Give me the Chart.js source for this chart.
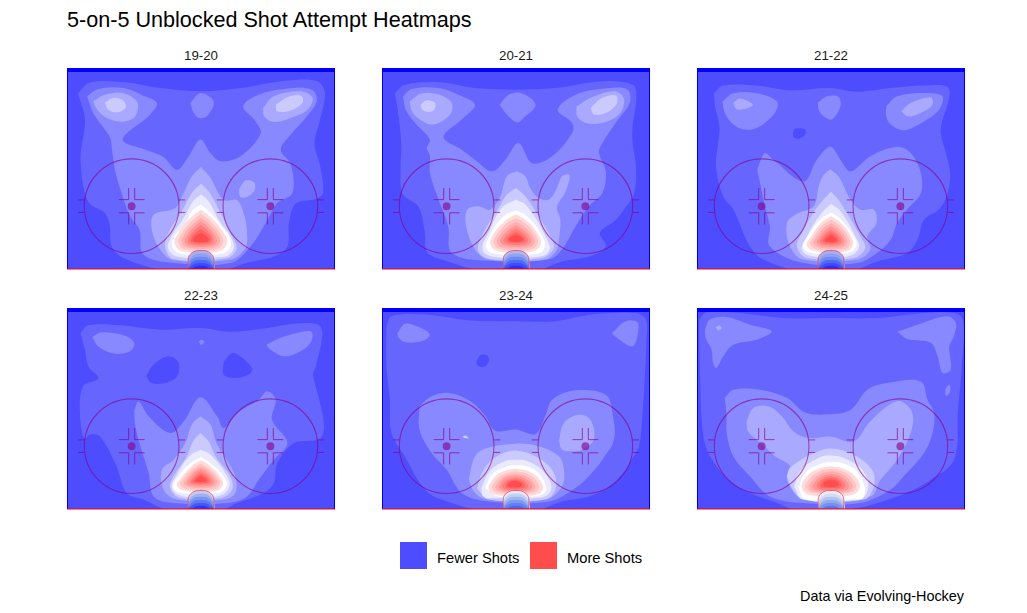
<!DOCTYPE html>
<html>
<head>
<meta charset="utf-8">
<title>5-on-5 Unblocked Shot Attempt Heatmaps</title>
<script src="https://cdn.jsdelivr.net/npm/chart.js@4/dist/chart.umd.min.js"></script>
<style>
  body { margin: 0; background: #fff; font-family: "Liberation Sans", Arial, sans-serif; color: #1a1a1a; }
  #page { position: relative; width: 1027px; height: 613px; overflow: hidden; }
  #page > div, #page > canvas { position: absolute; }
  .facet { width: 268px; text-align: center; font-size: 13.3px; line-height: 14px; }
  #title { left: 67px; top: 8px; font-size: 21.6px; line-height: 24px; color: #000; white-space: nowrap; }
  #caption { right: 63px; top: 588px; font-size: 14.4px; line-height: 16px; color: #000; white-space: nowrap; }
  .key { width: 27px; height: 27px; top: 542px; }
  .keyLabel { top: 550px; font-size: 14.7px; line-height: 16px; white-space: nowrap; color: #000; }
</style>
</head>
<body>
<div id="page">
  <div id="title">5-on-5 Unblocked Shot Attempt Heatmaps</div>
  <div id="caption">Data via Evolving-Hockey</div>
</div>
<script>
const seasons = ["19-20", "20-21", "21-22", "22-23", "23-24", "24-25"];
const legendLabels = ["Fewer Shots", "More Shots"];

// contour fill per level, low to high
const levelColors = ["#4d4dff", "#6666ff", "#8888ff", "#a9a9ff", "#cacaff", "#eaeaff", "#ffffff",
  "#ffdcdc", "#ffc5c5", "#ffadad", "#ff9595", "#ff7d7d", "#ff6565", "#ff4d4d"];

// each entry: [level, ring of [feet across, feet from goal line]]
const contours1920 = [
  [1, [[-39,56],[-35.2,59.4],[-23.6,59.4],[-13,57.6],[0,56.6],[12.5,57.6],[27.4,60],[36.9,59.8],[39.3,56],[37.5,46.5],[36,40],[37.8,32.7],[38.7,24.2],[36.4,22.3],[30,20.8],[27.9,14.6],[27.4,7.2],[23.1,4],[14.6,2],[5,-1],[-8.7,-1],[-23.6,3],[-28.3,7.2],[-28.9,13.6],[-30.5,17.8],[-35.8,21.5],[-38.2,34.8],[-36.8,47.6]]],
  [2, [[-36.1,55],[-32.5,57.3],[-24.6,57.6],[-18.3,55.2],[-14,52.9],[-16.1,49.2],[-24.8,41.2],[-17.2,37.8],[-11.9,35.7],[-7.6,31.6],[-3.9,35.9],[-0.2,41.2],[3,36.9],[6.2,34.3],[12.5,35.9],[18.9,43.1],[17.3,47],[13.4,51.8],[18.9,55.7],[29.5,57.6],[35.4,56.9],[36.7,53.4],[33.2,48.1],[28.5,42.8],[25.3,38],[28.5,33.2],[29,24.2],[24.2,21],[20.5,14.6],[15.7,7.2],[9.3,1.9],[-8.7,1.9],[-18.3,4.6],[-19.5,12.5],[-22.5,16.8],[-25.7,25.8],[-27.3,31.6],[-28.3,38.5],[-28.9,42],[-34.2,49.7]]],
  [2, [[-3.4,52.9],[-0.2,56],[4,53.4],[2.4,49.2],[-0.2,48],[-2.3,49.7]]],
  [3, [[-34.2,53.4],[-30.5,55.5],[-24.6,56],[-20.2,53.1],[-20.9,48.6],[-24.6,46.9],[-29.9,48.1],[-32.9,50.7]]],
  [3, [[19.7,51.3],[23.1,55],[31.6,56.6],[35.4,54.5],[33.8,50.7],[28.5,48.1],[23.1,46.8],[20,48.6]]],
  [3, [[12,25.3],[14.1,28.2],[16.8,27.6],[17,25.1],[14.6,22.9],[12.5,22.9]]],
  [3, [[0,32.5],[3,29],[7.2,22],[11.5,21.9],[13.8,16.8],[14.6,11.5],[14.1,6.7],[9.3,3],[-8.7,2.8],[-13,6.2],[-15.6,12.5],[-15,17.3],[-8.2,19.4],[-5.5,24.2],[-2.9,29.5]]],
  [4, [[-30.5,52.9],[-27.8,54.5],[-24.6,53.6],[-23.9,51.3],[-26.8,49.9],[-29.4,50.7]]],
  [4, [[23.7,52.3],[27.4,54.7],[31.8,55.2],[32.2,52.9],[28.5,50.5],[24.2,50.2]]],
  [4, [[0,27.2],[2.8,24.2],[6.2,17.8],[9.3,11.5],[11.3,6.7],[8.3,3.5],[-8.7,3.2],[-11.4,7.2],[-9.8,12.5],[-6.1,18.4],[-2.9,24.2]]],
  [5, [[0,23.7],[2.4,21.6],[5.6,15.7],[9.9,9.3],[9.9,5.6],[6.2,3.8],[-6.6,3.8],[-10.3,6.2],[-9.6,9.9],[-5.5,16.2],[-2.5,21.6]]],
  [6, [[0,20.5],[3,17.8],[6.2,14.1],[9.3,9.3],[8.8,6.2],[5.1,4.6],[-5,4.6],[-8.7,6.4],[-8.7,9.9],[-4.8,14.6],[-2.9,18.4]]],
  [7, [[0,18.9],[3,16.6],[7.2,11.5],[8.3,8.3],[5.5,5.6],[-5.5,5.6],[-8.3,8],[-7.2,11.5],[-3,16.6]]],
  [8, [[0,17.6],[2.8,15.4],[6.2,11.2],[7,8.4],[4.8,6.2],[-4.8,6.2],[-7.1,8.2],[-6.2,11.2],[-2.8,15.4]]],
  [9, [[0,16.3],[2.5,14.3],[5.3,11],[6,8.5],[4,6.8],[-4,6.8],[-6.1,8.4],[-5.3,11],[-2.5,14.3]]],
  [10, [[0,15.1],[2.2,13.4],[4.4,10.7],[5,8.6],[3.3,7.3],[-3.3,7.3],[-5.1,8.6],[-4.4,10.7],[-2.2,13.4]]],
  [11, [[0,13.9],[1.9,12.5],[3.6,10.4],[4,8.8],[2.7,7.8],[-2.7,7.8],[-4.1,8.8],[-3.6,10.4],[-1.9,12.5]]],
  [12, [[0,12.7],[1.6,11.6],[2.9,10.2],[3.2,9],[2.1,8.3],[-2.1,8.3],[-3.3,9],[-2.9,10.2],[-1.6,11.6]]],
  [13, [[0,11.6],[1.3,10.8],[2.3,9.8],[2.4,9.1],[1.4,8.6],[-1.4,8.6],[-2.5,9.1],[-2.3,9.8],[-1.3,10.8]]]
];

const contours2021 = [
  [1, [[-38.4,56],[-35.2,58.7],[-23.6,59.4],[-13,57.6],[0,57.1],[12.5,57.6],[27.4,59.8],[37,58.7],[38.2,55],[37,45.5],[37,40],[38,33],[37.5,24.2],[34.3,19],[31.7,15.7],[26.6,11.5],[28.5,7.2],[23.1,4],[14.6,2.4],[5,-1],[-8.7,-1],[-23.6,3],[-28.3,5.6],[-28.9,11.5],[-30.9,19.8],[-36,24],[-36.6,31.6],[-36.4,40],[-37.5,50.7]]],
  [2, [[-35.8,55],[-33.1,57.3],[-24.6,57.6],[-18.3,55.5],[-13,52.3],[-17.2,47.6],[-23,42],[-17.2,38],[-13,34.8],[-7.6,31.1],[-3.4,34.8],[0.8,40.1],[5.1,33.7],[11.5,35.9],[17.8,43.3],[17.8,46.5],[13.2,50.7],[18.9,55.5],[29.5,57.6],[35.4,57.1],[36.1,53],[31.6,46.5],[27.4,40.1],[26.3,37.2],[28.5,30.9],[27.4,24.2],[23.1,20],[18.9,13.6],[14.6,6.2],[10.4,3],[-8.7,2.6],[-20.4,5.1],[-21.5,13.6],[-24.6,22.1],[-27.3,30.6],[-27.3,35.9],[-28.3,38.5],[-27.3,41.2],[-32,46.5],[-35,50.7]]],
  [2, [[-5.2,52.3],[-2.3,55.5],[1.9,56],[6.2,52.3],[2.4,48.1],[0.3,46.7],[-2.9,49.2]]],
  [3, [[-33.7,53.4],[-30,55.9],[-24.6,55.6],[-20.4,53],[-20.9,49.2],[-26.2,46],[-30.5,47.6],[-33.1,50.3]]],
  [3, [[19.2,51.8],[24.2,54.8],[31.6,56.6],[34.3,53.9],[32.7,49.2],[27.4,46.5],[22.1,46.5],[19.4,48.6]]],
  [3, [[0.3,31.1],[3,29.5],[4.5,25.8],[7.2,22.6],[10.4,22.1],[13,25.8],[14.6,29.5],[17,29.9],[15.7,24.6],[13,19.8],[14.1,15.6],[13.6,9.3],[13,6.2],[9.3,3],[-8.7,3],[-13,6.2],[-15.8,13.6],[-15.5,18.9],[-11.9,20],[-8.2,18.9],[-5,23.1],[-2.9,29.5]]],
  [4, [[-30.3,52.3],[-28.3,53.7],[-25.7,52.9],[-25.9,50.7],[-27.8,50],[-29.7,50.7]]],
  [4, [[23.7,51.3],[27.4,54.5],[31.8,55.2],[31.8,52.3],[28.5,49.7],[24.7,49.2]]],
  [4, [[0,25.8],[3,23.1],[6.2,18.4],[10.9,10.4],[12,6.7],[8.3,3.5],[-8.7,3.2],[-12.1,6.2],[-9.8,12.5],[-5.5,19.4],[-2.9,23.7]]],
  [5, [[0,22.1],[3.5,20],[9.9,9.3],[10.4,5.6],[6.2,3.8],[-6.6,3.8],[-10.6,6.2],[-8.2,12.5],[-4.5,19.4]]],
  [6, [[0,18.7],[3.5,16.8],[8.3,10.4],[8.8,6.2],[5.1,4.6],[-5,4.6],[-9.2,6.2],[-8.2,10.9],[-3.9,16.8]]],
  [7, [[0,17.4],[3.2,15.5],[7,11],[7.8,7.8],[5,5.5],[-5,5.5],[-8,7.5],[-7.2,11],[-3.2,15.5]]],
  [8, [[0,16.2],[3,14.5],[6.2,10.8],[6.8,8],[4.5,6.2],[-4.5,6.2],[-7,8],[-6.2,10.8],[-3,14.5]]],
  [9, [[0,15],[2.7,13.4],[5.3,10.5],[5.8,8.3],[4,6.8],[-4,6.8],[-6,8.3],[-5.3,10.5],[-2.7,13.4]]],
  [10, [[0,13.9],[2.3,12.5],[4.4,10.3],[4.8,8.6],[3.2,7.4],[-3.2,7.4],[-5,8.6],[-4.4,10.3],[-2.3,12.5]]],
  [11, [[0,12.8],[1.9,11.7],[3.6,10],[3.8,8.8],[2.5,7.9],[-2.5,7.9],[-3.9,8.8],[-3.6,10],[-1.9,11.7]]],
  [12, [[0,11.8],[1.5,11],[2.8,9.8],[2.8,9],[1.8,8.4],[-1.8,8.4],[-2.9,9],[-2.8,9.8],[-1.5,11]]],
  [13, [[0,11],[1.2,10.4],[2.2,9.6],[1.9,9],[1,8.7],[-1,8.7],[-2,9],[-2.2,9.6],[-1.2,10.4]]]
];

const contours2122 = [
  [1, [[-37.1,56],[-34.2,58.4],[-23.6,58.4],[-13,56.9],[-0.2,57.6],[8.3,56.4],[18.9,57.6],[29.5,58.4],[36.9,58],[37.5,54.5],[34.8,44.4],[36.4,37],[37.8,30.6],[37,24.2],[34.3,19],[29.5,15.7],[27.4,9.3],[24.2,5.1],[14.6,2.4],[5,-1],[-8.7,-1],[-21.5,3],[-25.7,7.2],[-27.8,11.5],[-31,19],[-34.2,23.1],[-36.5,32.7],[-35.8,40],[-35.4,45.4],[-36.8,51.8]]],
  [0, [[-12.1,43.3],[-11.4,44.7],[-8.2,44.4],[-8.2,42.8],[-10.3,41.5],[-11.9,42]]],
  [2, [[-34.4,53.4],[-30.9,56],[-23.6,56],[-17.2,53.4],[-17.8,49.7],[-23.6,44.9],[-28.3,44.6],[-32,47],[-33.9,50.3]]],
  [2, [[17.5,51.8],[21,55],[31.6,56],[35.4,54.9],[34.3,50.7],[29.5,47],[23.1,44.2],[18.9,46],[17.5,48.6]]],
  [2, [[-4.2,52.9],[-1.3,55],[2.4,54.8],[3,51.8],[0.3,47.6],[-2.3,48.6],[-3.9,50.7]]],
  [2, [[-23.4,31.6],[-21,36.9],[-18.3,34.8],[-8.7,27.9],[-4.5,34.8],[-0.2,38.9],[3,34.8],[6.2,31.1],[12.5,35.9],[21,38.9],[25.3,36.9],[28.5,30.6],[28.5,24.2],[24.2,19],[21,14.6],[18.9,9.3],[14.6,5.1],[8.3,1.9],[-8.7,1.9],[-19.4,7.2],[-19.4,13.6],[-21,19.9],[-22.5,27.4]]],
  [3, [[-31,52.9],[-28.9,54.3],[-24.8,52.4],[-26.8,51.1],[-30,50.9]]],
  [3, [[22.3,50.2],[25.3,52.9],[31.6,54.7],[32.2,52.3],[28.5,49.7],[24.2,48.6]]],
  [3, [[-0.2,31.8],[2.4,29.5],[6.2,22],[9.3,18.9],[13.6,18.9],[14.4,14.6],[11.5,10.4],[12.5,6.2],[8.3,3],[-8.7,3],[-13,7.2],[-14,14.6],[-10.8,17.6],[-5.5,20],[-3.9,26.3],[-2.3,30]]],
  [4, [[0,24.7],[2.4,22],[5.1,17.8],[9.3,10.4],[10.9,6.7],[7.2,3.5],[-7.6,3.5],[-10.8,7.2],[-8.7,12.5],[-5,18.9],[-2.5,22]]],
  [5, [[0,20.8],[3,18.4],[7.7,10.4],[8.8,6.7],[5.1,4],[-5.5,4],[-9.2,6.2],[-7.6,10.4],[-3.4,17.3]]],
  [6, [[0,18],[3,15.9],[7.2,10.4],[8,7.2],[4.6,4.9],[-5,4.9],[-8.7,6.7],[-7.1,10.9],[-3.4,15.7]]],
  [7, [[0,16.8],[3,14.8],[6.3,10.5],[6.9,7.6],[4.5,5.6],[-4.5,5.6],[-7.6,7.4],[-6.2,10.5],[-3,14.8]]],
  [8, [[0,15.7],[2.7,13.9],[5.5,10.3],[6,7.9],[4,6.2],[-4,6.2],[-6.6,7.9],[-5.4,10.3],[-2.7,13.9]]],
  [9, [[0,14.6],[2.4,13],[4.7,10.1],[5.1,8.2],[3.4,6.8],[-3.4,6.8],[-5.5,8.2],[-4.6,10.1],[-2.4,13]]],
  [10, [[0,13.6],[2,12.2],[3.9,9.9],[4.2,8.4],[2.8,7.3],[-2.8,7.3],[-4.5,8.4],[-3.8,9.9],[-2,12.2]]],
  [11, [[0,12.6],[1.7,11.4],[3.1,9.8],[3.3,8.6],[2.2,7.8],[-2.2,7.8],[-3.5,8.6],[-3,9.8],[-1.7,11.4]]],
  [12, [[0,11.7],[1.4,10.8],[2.4,9.6],[2.4,8.8],[1.6,8.3],[-1.6,8.3],[-2.6,8.8],[-2.3,9.6],[-1.4,10.8]]],
  [13, [[0,10.9],[1,10.2],[1.8,9.4],[1.6,8.9],[0.9,8.6],[-0.9,8.6],[-1.8,8.9],[-1.8,9.4],[-1,10.2]]]
];

const contours2223 = [
  [1, [[-38.2,56],[-35.8,58.5],[-25.7,58.5],[-13,57.1],[-0.2,57.6],[9.3,56.4],[21,57.6],[29.5,59],[36.9,58.8],[38.5,56],[36.4,45.4],[35.5,42.8],[37.5,34.8],[39,26.3],[37.5,22.3],[29.5,21],[24.2,14.6],[23.1,8.3],[20,5.1],[11.5,1.9],[5,-1],[-8.7,-1],[-18.3,3],[-23.6,5.1],[-26.8,13.6],[-32,23.1],[-35.2,23.7],[-37,22.3],[-38.4,30.6],[-37.4,39],[-32.5,41.6],[-35.7,45.4],[-36.8,50.7]]],
  [0, [[-17.4,42.3],[-15,46],[-10.2,48.6],[-7.1,46.5],[-7.6,42.3],[-11.4,40.1],[-15.6,40.1]]],
  [0, [[7.2,47],[10.4,49.7],[16.2,44.9],[15.2,42.8],[10.4,41.7],[7.2,42.8]]],
  [2, [[-34.5,54.8],[-31.5,56.3],[-24.1,55.2],[-21.2,52.9],[-22.5,50.2],[-27.8,49.5],[-32.6,51.8]]],
  [2, [[20.8,52.3],[25.3,54.5],[34.8,56.6],[35,53.4],[31.6,50.2],[26.3,48.6],[22.1,50.7]]],
  [2, [[-0.7,53.2],[0.1,53.9],[1.1,53.2],[0.1,52.3]]],
  [2, [[-21.2,31.2],[-19.8,34.2],[-16.6,29.5],[-9.8,24.2],[-5.5,27.9],[-0.2,35.6],[5.1,29.5],[7.2,25.8],[11.5,30.6],[18.3,34.8],[21,37.5],[23.7,34.8],[22.5,28.5],[27.4,21],[23.1,15.7],[18.3,9.3],[14.6,4],[8.3,1.9],[-8.7,1.9],[-15,4],[-16.6,11.5],[-19.2,19.9],[-20.8,26.3]]],
  [3, [[-0.2,29.5],[3,26.9],[4.9,21],[8.8,14.6],[10.9,10.4],[10.9,5.1],[7.2,3],[-7.6,3],[-11.9,6.2],[-12.4,12.5],[-8.7,15.7],[-5,21],[-2.9,26.9]]],
  [4, [[-0.2,24.2],[2.4,21.6],[4.6,16.8],[9.3,10.4],[9.9,6.2],[6.2,3.5],[-6.6,3.5],[-9.8,6.7],[-8.7,10.4],[-4.5,16.8],[-2.5,21.6]]],
  [5, [[0,18.9],[3,17.3],[8.3,10.4],[8.8,6.7],[5.1,4],[-5.5,4],[-9.2,6.7],[-7.6,10.9],[-3.4,17]]],
  [6, [[0,16.5],[3,14.6],[7.2,10.4],[8,7.2],[4.6,4.9],[-5,4.9],[-8.7,6.7],[-6.8,10.9],[-2.9,14.9]]],
  [7, [[0,15.5],[2.8,13.8],[6.3,10],[6.9,7.6],[4.5,5.7],[-4.5,5.7],[-7.6,7.4],[-6.2,10],[-2.8,13.8]]],
  [8, [[0,14.5],[2.5,13],[5.5,9.9],[6,7.8],[4,6.3],[-4,6.3],[-6.6,7.8],[-5.4,9.9],[-2.5,13]]],
  [9, [[0,13.6],[2.2,12.3],[4.7,9.7],[5.1,8.1],[3.4,6.9],[-3.4,6.9],[-5.5,8.1],[-4.6,9.7],[-2.2,12.3]]],
  [10, [[0,12.8],[1.9,11.7],[3.9,9.6],[4.2,8.3],[2.8,7.4],[-2.8,7.4],[-4.5,8.3],[-3.8,9.6],[-1.9,11.7]]],
  [11, [[0,12],[1.6,11],[3.1,9.5],[3.3,8.5],[2.2,7.9],[-2.2,7.9],[-3.5,8.5],[-3,9.5],[-1.6,11]]],
  [12, [[0,11.2],[1.3,10.4],[2.4,9.4],[2.4,8.7],[1.6,8.3],[-1.6,8.3],[-2.6,8.7],[-2.3,9.4],[-1.3,10.4]]],
  [13, [[0,10.5],[1,9.9],[1.8,9.2],[1.6,8.8],[0.9,8.6],[-0.9,8.6],[-1.8,8.8],[-1.8,9.2],[-1,9.9]]]
];

const contours2324 = [
  [1, [[-41.1,58.2],[-39.5,61.4],[-28.9,61.9],[-15.1,60.1],[0,59.8],[12.5,59.8],[24.2,61.9],[38,62.4],[41.2,60.3],[41.4,54],[40.1,29.7],[39,20],[36.9,16.2],[34.8,12.5],[29.5,7.2],[23.1,4],[14.6,2.4],[5,-1],[-8.7,-1],[-23.6,3],[-28.9,6.2],[-35.3,16.8],[-39.5,24.2],[-40,34.8],[-41.1,45.4]]],
  [0, [[-12.6,47.2],[-11,49.1],[-9,48.8],[-8.6,47.2],[-9.6,45.5],[-11.2,45.3],[-12.4,46]]],
  [2, [[-37.6,56],[-35.2,59],[-31,58],[-27.3,55.5],[-30,53.4],[-35.2,53.1],[-37.2,54.5]]],
  [2, [[30.4,56],[34.8,59.8],[38.5,59.4],[38.5,55],[36.9,51.8],[32.7,54]]],
  [2, [[-30.6,32.7],[-26.8,35.9],[-21,36.9],[-14,34],[-9.8,29.7],[-6.6,24.9],[0,25.3],[6.2,23.9],[9.3,29.7],[11.5,34.8],[18.9,37.8],[28.5,36.4],[30.6,30.6],[31.1,22.1],[27.4,15.7],[23.1,10.4],[18.9,6.7],[10.4,2.4],[-8.7,2.4],[-17.2,5.1],[-22,12.5],[-26.8,17.8],[-30.6,25.2]]],
  [3, [[13.6,21.9],[15.2,27.4],[19.9,30],[23.6,28.5],[24.7,22.1],[21,18.9],[17.8,18.4],[14.6,18.9]]],
  [3, [[-15,9.3],[-13,16.8],[-9.2,19.4],[-0.2,20.8],[7.2,20],[13.6,16.8],[15.2,12.5],[14.6,7.2],[9.3,3],[-8.7,3],[-13,5.1]]],
  [4, [[-17,23.1],[-16,23.4],[-15,22.5],[-16.4,22.6]]],
  [4, [[-12.4,6.7],[-10.3,12.5],[-6.1,16.8],[-0.2,18.6],[7.2,16.2],[12,11.5],[12.5,6.2],[9.3,3],[-8.7,3]]],
  [5, [[-11,6.7],[-8.7,11.5],[-5,14.6],[-0.2,15.7],[5.1,14.6],[9.9,10.4],[10.9,5.6],[6.2,3.5],[-6.6,3.5],[-10.3,4]]],
  [6, [[-9.8,6.7],[-7.6,10.9],[-3.9,13.1],[-0.2,13.9],[4.6,13.1],[8.3,9.9],[9.3,5.6],[5.1,4],[-5.5,4]]],
  [7, [[-0.2,12.9],[4,12],[7.5,9.3],[8.4,6],[5,4.3],[-5,4.3],[-8.6,6],[-7.2,9.6],[-4,12]]],
  [8, [[-0.2,12],[3.5,11.2],[6.5,8.9],[7.2,6.3],[4.5,4.9],[-4.5,4.9],[-7.5,6.3],[-6.3,9.2],[-3.6,11.2]]],
  [9, [[-0.2,11.2],[3,10.5],[5.4,8.6],[6,6.5],[4,5.4],[-4,5.4],[-6.4,6.5],[-5.5,8.8],[-3.2,10.5]]],
  [10, [[-0.3,10.5],[2.5,9.9],[4.5,8.4],[5,6.8],[3.2,5.8],[-3.4,5.8],[-5.4,6.8],[-4.7,8.6],[-3,9.9]]],
  [11, [[-0.4,9.9],[2,9.4],[3.5,8.1],[3.8,7],[2.5,6.2],[-3,6.2],[-4.4,7],[-4,8.3],[-2.6,9.3]]],
  [12, [[-0.4,9.4],[1.6,8.9],[2.7,7.9],[2.7,7.1],[1.8,6.6],[-2.6,6.6],[-3.4,7.1],[-3.2,8],[-2.2,8.9]]],
  [13, [[-0.6,9],[1,8.6],[1.9,7.8],[1.6,7.2],[0.8,7],[-2,7],[-2.7,7.3],[-2.5,8],[-1.8,8.6]]]
];

const contours2425 = [
  [1, [[-41.8,60.3],[-39.5,62.6],[-28.9,62.4],[-15.1,60.8],[0,60.8],[14.6,60.8],[27.4,62.2],[39.1,62.4],[42,59.8],[41.5,45.4],[40.3,31.8],[39,15.7],[31.6,9.3],[26.3,6.2],[21,4],[8.3,0.3],[-8.7,-1],[-18.3,2.4],[-25.7,5.1],[-32,8.8],[-38.4,16.8],[-40.6,24.2],[-41.6,45.4],[-41.8,56]]],
  [2, [[-40,57.1],[-38.4,60.3],[-33.1,61.1],[-25.7,58.7],[-18.8,56.6],[-23.6,53.9],[-31,52.3],[-34.2,48.6],[-36.3,44.9],[-37.4,46.5],[-37.9,50.7],[-39.7,54.4]]],
  [3, [[-36.6,57.8],[-35.5,58.4],[-34.6,57.6],[-35.6,56.9]]],
  [2, [[21,56.4],[27.4,58.7],[36.9,61.4],[39.6,59.3],[39,55],[37.5,51.8],[38,44.4],[35.4,43.3],[33.8,48.6],[31.6,52.9],[24.2,54.1]]],
  [2, [[36.2,38],[37.5,39.6],[37.8,37.5],[36.5,36]]],
  [2, [[-33.7,35.4],[-31,38],[-22.5,38],[-14,35.4],[-8.2,30.7],[-0.2,30.2],[6.2,31.6],[11.5,38],[17.8,40.1],[28.5,40.6],[30.6,34.8],[32.7,30.6],[32.2,24.2],[29.5,17.8],[23.1,10.4],[18.9,6.2],[9.3,1.9],[-8.7,1.9],[-19.4,4],[-25.7,10.4],[-31,16.8],[-33.1,24.2],[-33.1,29.5]]],
  [3, [[-26.8,27.9],[-24.6,32.2],[-19.8,32.7],[-15.6,29.5],[-11.9,24.7],[-7.1,22.6],[-0.2,23.1],[7.2,21.5],[12,27.4],[17.8,32.7],[22.1,34.3],[25.8,30.6],[25.3,24.2],[21,15.7],[15.7,9.3],[12.5,4],[-8.7,3],[-14,9.3],[-13,13.6],[-17.8,16.8],[-21,19.9],[-26.3,24.7]]],
  [4, [[-14,10.4],[-13,13.1],[-6.6,17.3],[-0.2,19.3],[7.2,17.3],[13,12.5],[13.6,7.2],[10.4,3],[-8.7,3],[-12.4,6.7]]],
  [5, [[-11.7,7.2],[-9.8,12],[-5,15.7],[-0.2,17],[6.2,15.2],[10.9,10.9],[11.5,5.6],[8.3,3],[-8.7,3]]],
  [6, [[-10.3,6.7],[-8.2,11.5],[-3.9,14.1],[-0.2,14.9],[5.1,14.1],[9.3,10.4],[10.4,4],[6.2,3],[-8.2,3.2]]],
  [7, [[0,13.6],[4,12.8],[8,10],[9,6.5],[6,4.3],[-6,4.3],[-9.2,6.5],[-8,10],[-4,12.8]]],
  [8, [[0,12.8],[3.6,12],[7,9.4],[7.9,6.6],[5.3,5],[-5.3,5],[-8.1,6.6],[-7,9.4],[-3.6,12]]],
  [9, [[0,12],[3.2,11.2],[6,9],[6.8,6.7],[4.6,5.4],[-4.6,5.4],[-7,6.7],[-6,9],[-3.2,11.2]]],
  [10, [[0,11.2],[2.8,10.5],[5,8.7],[5.6,6.9],[3.8,5.8],[-3.8,5.8],[-5.8,6.9],[-5,8.7],[-2.8,10.5]]],
  [11, [[0,10.5],[2.4,9.9],[4.1,8.4],[4.4,7],[3,6.2],[-3,6.2],[-4.5,7],[-4.1,8.4],[-2.4,9.9]]],
  [12, [[0,9.9],[2,9.4],[3.2,8.2],[3.2,7.2],[2.2,6.7],[-2.2,6.7],[-3.4,7.2],[-3.2,8.2],[-2,9.4]]],
  [13, [[0,9.3],[1.6,8.9],[2.5,8],[2,7.3],[1,7],[-1,7],[-2.2,7.3],[-2.5,8],[-1.6,8.9]]]
];

const allContours = [contours1920, contours2021, contours2122, contours2223, contours2324, contours2425];

// goal crease shading, top of each band in feet and its colour
const creaseHeights = [5.8, 4.8, 3.8, 2.8, 1.8, 0.9];
const creaseShades = [
  ["#aab0f0", "#8fa2f0", "#7088f2", "#5068f8", "#3c4cff", "#2c2cff"],
  ["#b0b8f0", "#90a4f0", "#7088f2", "#5068f8", "#3c4cff", "#2c2cff"],
  ["#a8b0f0", "#8fa2f0", "#7088f2", "#5068f8", "#3c4cff", "#2c2cff"],
  ["#c8cce8", "#9fb0f0", "#7c94f0", "#5c78f4", "#4058fc", "#2c34ff"],
  ["#e8e8f4", "#c4d0f0", "#a0b4f0", "#7c98f0", "#6080f4", "#4c64f8"],
  ["#f0f0f4", "#d8dcec", "#b4c4f0", "#90a8f0", "#7490f0", "#5c74f4"]
];
const creaseOutline = [[-4,0],[-4,3.6],[-3.1,5],[-1.5,5.8],[1.5,5.8],[3.1,5],[4,3.6],[4,0]];

// rink markings, in feet
const blueLine = [[-42.5,63.4],[42.5,63.4]];
const leftBoards = [[-42.35,0],[-42.35,64]];
const rightBoards = [[42.35,0],[42.35,64]];
const goalLine = [[-42.5,0],[42.5,0]];
const faceoffDots = [[-22,20],[22,20]];
const faceoffRadius = 15;
const dotRadius = 1.25;
// offsets from a dot: x1, y1, x2, y2
const hashMarks = [
  [-4.1,2.1,-0.95,2.1],[0.95,2.1,4.1,2.1],[-4.1,-2.1,-0.95,-2.1],[0.95,-2.1,4.1,-2.1],
  [-0.95,2.1,-0.95,5.8],[0.95,2.1,0.95,5.8],[-0.95,-2.1,-0.95,-5.8],[0.95,-2.1,0.95,-5.8],
  [-15,2,-17,2],[-15,-2,-17,-2],[15,2,17,2],[15,-2,17,-2]
];

const panelLefts = [67, 382, 697];
const panelTops = [68, 308];
const markColor = "rgba(130,0,130,0.6)";

function closeRing(ring) {
  return ring.concat([ring[0]]);
}

function ringDataset(ring, color, tension) {
  return {
    data: closeRing(ring),
    showLine: true,
    fill: "shape",
    backgroundColor: color,
    borderWidth: 0,
    borderColor: color,
    pointRadius: 0,
    tension: tension
  };
}

function lineDataset(points, color, width) {
  return {
    data: points,
    showLine: true,
    fill: false,
    clip: false,
    borderColor: color,
    borderWidth: width,
    pointRadius: 0,
    tension: 0
  };
}

function creaseDome(top) {
  return [[-4,-1],[-4,Math.max(top - 2.2, 0)],[-3,top - 0.8],[-1.5,top],[1.5,top],[3,top - 0.8],[4,Math.max(top - 2.2, 0)],[4,-1]];
}

const rinkMarks = {
  id: "rinkMarks",
  afterDatasetsDraw(chart) {
    const { ctx, scales: { x, y } } = chart;
    const pxPerFoot = (x.getPixelForValue(1) - x.getPixelForValue(0));
    ctx.save();
    ctx.strokeStyle = markColor;
    ctx.fillStyle = markColor;
    ctx.lineWidth = 1.1;
    faceoffDots.forEach(([dx, dy]) => {
      const cx = x.getPixelForValue(dx);
      const cy = y.getPixelForValue(dy);
      ctx.beginPath();
      ctx.arc(cx, cy, faceoffRadius * pxPerFoot, 0, Math.PI * 2);
      ctx.stroke();
      ctx.beginPath();
      ctx.arc(cx, cy, dotRadius * pxPerFoot, 0, Math.PI * 2);
      ctx.fill();
      hashMarks.forEach(([x1, y1, x2, y2]) => {
        ctx.beginPath();
        ctx.moveTo(x.getPixelForValue(dx + x1), y.getPixelForValue(dy + y1));
        ctx.lineTo(x.getPixelForValue(dx + x2), y.getPixelForValue(dy + y2));
        ctx.stroke();
      });
    });
    ctx.restore();
  }
};

function buildPanel(index) {
  const page = document.getElementById("page");
  const left = panelLefts[index % 3];
  const top = panelTops[Math.floor(index / 3)];

  const label = document.createElement("div");
  label.className = "facet";
  label.textContent = seasons[index];
  label.style.left = left + "px";
  label.style.top = (top - 19) + "px";
  page.appendChild(label);

  const canvas = document.createElement("canvas");
  canvas.width = 272;
  canvas.height = 205;
  canvas.style.left = (left - 2) + "px";
  canvas.style.top = (top - 2) + "px";
  page.appendChild(canvas);

  // rings are painted low to high over a base rectangle
  const datasets = [];
  datasets.push(ringDataset([[-42.5,0],[-42.5,64],[42.5,64],[42.5,0]], levelColors[0], 0));
  allContours[index].forEach(([level, ring]) => {
    // the tight rings round the net read better with a rounder curve
    datasets.push(ringDataset(ring, levelColors[level], level >= 5 ? 0.45 : 0.35));
  });
  creaseHeights.forEach((h, i) => datasets.push(ringDataset(creaseDome(h), creaseShades[index][i], 0.25)));
  datasets.push(Object.assign(lineDataset(creaseOutline, "rgba(225,60,110,0.75)", 1), { tension: 0.25 }));
  datasets.push(lineDataset(blueLine, "#0000ff", 4));
  datasets.push(lineDataset(leftBoards, "#0000d0", 1));
  datasets.push(lineDataset(rightBoards, "#0000d0", 1));
  datasets.push(lineDataset(goalLine, "#ff0000", 1));

  new Chart(canvas, {
    type: "scatter",
    data: { datasets: datasets.reverse() }, // first dataset is painted last
    options: {
      responsive: false,
      animation: false,
      events: [],
      layout: { padding: { left: 2, right: 2, top: 2, bottom: 2 } },
      plugins: { legend: { display: false }, tooltip: { enabled: false }, title: { display: false } },
      scales: {
        x: { type: "linear", min: -42.5, max: 42.5, display: false },
        y: { type: "linear", min: 0, max: 64, display: false }
      }
    },
    plugins: [rinkMarks]
  });
}

seasons.forEach((s, i) => buildPanel(i));

// legend
const legendColors = [levelColors[0], levelColors[13]];
const keyLefts = [400, 530];
const labelLefts = [437, 567];
legendLabels.forEach((text, i) => {
  const page = document.getElementById("page");
  const key = document.createElement("div");
  key.className = "key";
  key.style.left = keyLefts[i] + "px";
  key.style.background = legendColors[i];
  page.appendChild(key);
  const label = document.createElement("div");
  label.className = "keyLabel";
  label.style.left = labelLefts[i] + "px";
  label.textContent = text;
  page.appendChild(label);
});
</script>
</body>
</html>
